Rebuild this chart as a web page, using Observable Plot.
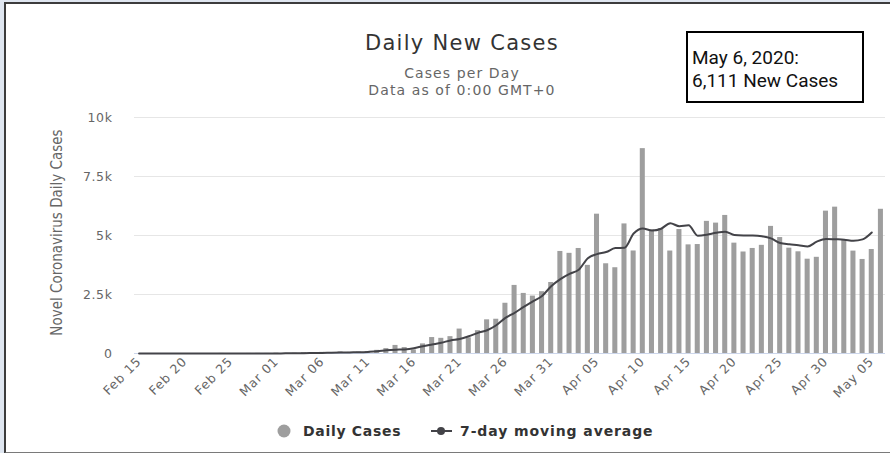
<!DOCTYPE html>
<html>
<head>
<meta charset="utf-8">
<script src="https://cdn.jsdelivr.net/npm/d3@7"></script>
<script src="https://cdn.jsdelivr.net/npm/@observablehq/plot@0.6"></script>
<style>
  html, body { margin: 0; padding: 0; }
  body { width: 890px; height: 453px; background: #dfe6f0; position: relative; overflow: hidden; font-family: "DejaVu Sans", sans-serif; }
  #frame { position: absolute; left: 4px; top: 2px; width: 886px; height: 448px; background: #fff;
           border-top: 2px solid #3c3c3c; border-left: 2px solid #3c3c3c; border-bottom: 2px solid #7a7a7a; box-sizing: content-box; }
  #chart { position: absolute; left: 0; top: 0; }
  #overlay { position: absolute; left: 0; top: 0; }
</style>
</head>
<body>
<div id="frame"></div>
<div id="chart"></div>
<svg id="overlay" width="890" height="453"></svg>
<script>
// ---- data ----
const startDate = "2020-02-15";
const dailyCases = [
  // Feb 15 – Feb 29
  0, 0, 0, 0, 0, 0, 0, 0, 0, 4, 0, 0, 2, 5, 3,
  // Mar 1 – Mar 31
  13, 4, 11, 34, 30, 48, 43, 67, 48, 61, 74, 134, 208, 342, 251, 152, 407, 676, 643, 714,
  1035, 665, 967, 1427, 1452, 2129, 2885, 2546, 2433, 2619, 3009,
  // Apr 1 – Apr 30
  4324, 4244, 4450, 3735, 5903, 3802, 3634, 5491, 4344, 8681, 5233, 5288, 4342, 5252, 4603,
  4617, 5599, 5525, 5850, 4676, 4301, 4451, 4583, 5386, 4913, 4463, 4309, 3996, 4076, 6032,
  // May 1 – May 6
  6201, 4806, 4339, 3985, 4406, 6111
];
const yTicks = [0, 2500, 5000, 7500, 10000];
const yTickLabels = ["0", "2.5k", "5k", "7.5k", "10k"];
const titleText = "Daily New Cases";
const subtitleLines = ["Cases per Day", "Data as of 0:00 GMT+0"];
const annotationLines = ["May 6, 2020:", "6,111 New Cases"];
const yLabel = "Novel Coronavirus Daily Cases";
const legendLabels = ["Daily Cases", "7-day moving average"];

// ---- derived table ----
const fmt = d3.utcFormat("%b %d");
const start = new Date(startDate + "T00:00:00Z");
const dates = dailyCases.map((_, i) => fmt(d3.utcDay.offset(start, i)));
const data = dates.map((d, i) => ({date: d, cases: dailyCases[i]}));
// 7-day moving average as drawn by the source (window ends one day after the point; last day has no point)
const avgData = dates.slice(0, dates.length - 1).map((d, i) => ({
  date: d,
  avg: d3.mean(dailyCases.slice(Math.max(0, i - 5), i + 2))
}));
const xTicks = dates.filter((d, i) => i % 5 === 0);

const chart = Plot.plot({
  width: 890,
  height: 400,
  marginTop: 117,
  marginBottom: 47,
  marginLeft: 134,
  marginRight: 5,
  style: {fontFamily: "DejaVu Sans, sans-serif", fontSize: "12.5px", color: "#666", background: "transparent"},
  x: {
    type: "band", domain: dates, paddingInner: 0.45, paddingOuter: 0.225, round: false,
    ticks: xTicks, tickRotate: -45, tickSize: 0, tickPadding: 6, label: null
  },
  y: {
    domain: [0, 10000], ticks: yTicks,
    tickFormat: v => yTickLabels[yTicks.indexOf(v)],
    tickSize: 0, tickPadding: 22, label: null
  },
  marks: [
    Plot.ruleY(yTicks.filter(v => v > 0), {stroke: "#e6e6e6", strokeWidth: 1}),
    Plot.barY(data, {x: "date", y: "cases", fill: "#9e9e9e"}),
    Plot.ruleY([0], {stroke: "#ccd6eb", strokeWidth: 1}),
    Plot.line(avgData, {x: "date", y: "avg", stroke: "#434348", strokeWidth: 2, curve: "monotone-x"}),
    Plot.text([yLabel], {
      frameAnchor: "left", textAnchor: "middle", dx: -77, dy: -3, rotate: -90, text: d => d,
      fill: "#666", fontSize: 15, fontFamily: "Liberation Sans Narrow, DejaVu Sans Condensed, sans-serif"
    })
  ]
});
document.getElementById("chart").appendChild(chart);
d3.select(chart).selectAll("g[aria-label='y-axis tick label'] text")
  .style("letter-spacing", "0.6px");
d3.select(chart).selectAll("g[aria-label='x-axis tick label'] text")
  .style("letter-spacing", "0.9px");

// ---- titles, annotation and legend ----
const ov = d3.select("#overlay");
ov.append("text").attr("x", 462).attr("y", 50).attr("text-anchor", "middle")
  .attr("font-size", 21).attr("fill", "#333").style("letter-spacing", "1.3px").text(titleText);
subtitleLines.forEach((t, i) => {
  ov.append("text").attr("x", 462).attr("y", 78 + i * 17).attr("text-anchor", "middle")
    .attr("font-size", 14).attr("fill", "#666").style("letter-spacing", "1.1px").text(t);
});
ov.append("rect").attr("x", 687).attr("y", 32).attr("width", 176).attr("height", 70)
  .attr("fill", "#fff").attr("stroke", "#000").attr("stroke-width", 2);
annotationLines.forEach((t, i) => {
  ov.append("text").attr("x", 692).attr("y", 64 + i * 23).attr("font-size", 19)
    .attr("font-family", "Roboto, sans-serif").attr("fill", "#111").text(t);
});
// legend
ov.append("circle").attr("cx", 284).attr("cy", 431).attr("r", 6.5).attr("fill", "#9e9e9e");
ov.append("text").attr("x", 303).attr("y", 436).attr("font-size", 14).attr("font-weight", "bold")
  .attr("fill", "#333").style("letter-spacing", "0.7px").text(legendLabels[0]);
ov.append("line").attr("x1", 431).attr("x2", 452).attr("y1", 431).attr("y2", 431)
  .attr("stroke", "#434348").attr("stroke-width", 2);
ov.append("circle").attr("cx", 441).attr("cy", 431).attr("r", 4).attr("fill", "#434348");
ov.append("text").attr("x", 460).attr("y", 436).attr("font-size", 14).attr("font-weight", "bold")
  .attr("fill", "#333").style("letter-spacing", "0.9px").text(legendLabels[1]);
</script>
</body>
</html>
